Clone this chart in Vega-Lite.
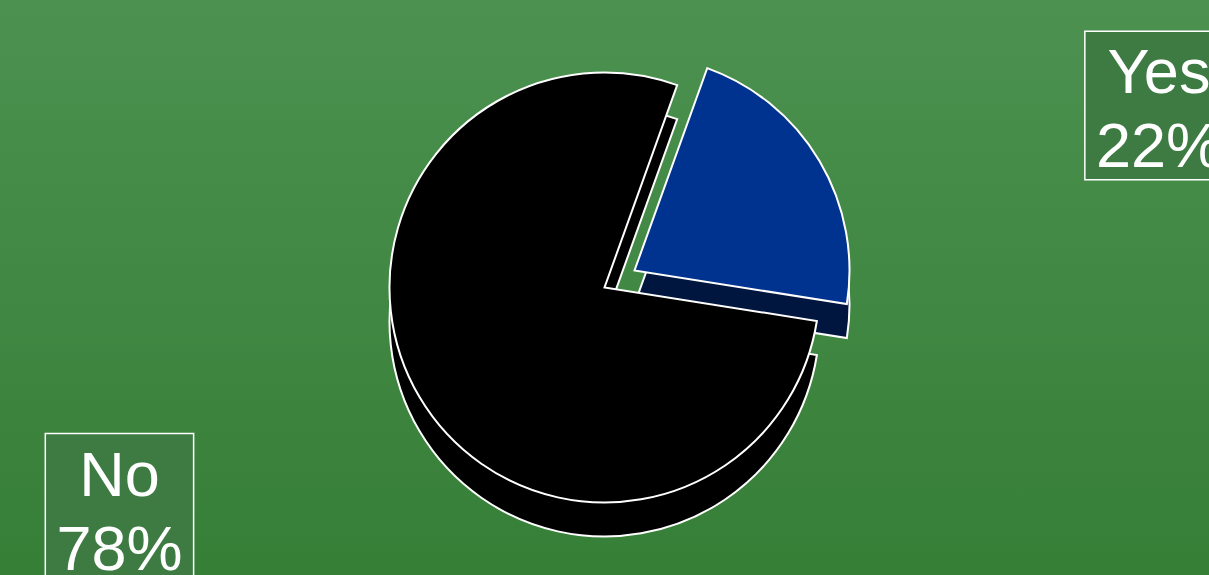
{
  "$schema": "https://vega.github.io/schema/vega-lite/v6.json",
  "width": 1209,
  "height": 575,
  "padding": 0,
  "autosize": {"type": "fit", "contains": "padding"},
  "background": "#428a45",
  "config": {
    "view": {
      "stroke": null,
      "fill": {"gradient": "linear", "x1": 0, "y1": 0, "x2": 0, "y2": 1,
        "stops": [{"offset": 0, "color": "#4c9150"}, {"offset": 1, "color": "#367f37"}]}
    }
  },
  "data": {"values": [
    {"answer": "Yes", "share": 0.22},
    {"answer": "No", "share": 0.78}
  ]},
  "layer": [
    {
      "mark": {"type": "arc", "radius": 215, "fill": "#000000", "stroke": "white", "strokeWidth": 2, "yOffset": 34},
      "encoding": {
        "theta": {"field": "share", "type": "quantitative", "stack": true, "scale": {"range": [0.345, 6.628]}},
        "order": {"field": "answer", "sort": "descending"},
        "opacity": {"condition": {"test": "datum.answer === 'No'", "value": 1}, "value": 0}
      }
    },
    {
      "mark": {"type": "arc", "radius": 215, "fill": "#00163f", "stroke": "white", "strokeWidth": 2, "xOffset": 30, "yOffset": 17},
      "encoding": {
        "theta": {"field": "share", "type": "quantitative", "stack": true, "scale": {"range": [0.345, 6.628]}},
        "order": {"field": "answer", "sort": "descending"},
        "opacity": {"condition": {"test": "datum.answer === 'Yes'", "value": 1}, "value": 0}
      }
    },
    {
      "mark": {"type": "arc", "radius": 215, "fill": "#000000", "stroke": "white", "strokeWidth": 2},
      "encoding": {
        "theta": {"field": "share", "type": "quantitative", "stack": true, "scale": {"range": [0.345, 6.628]}},
        "order": {"field": "answer", "sort": "descending"},
        "opacity": {"condition": {"test": "datum.answer === 'No'", "value": 1}, "value": 0}
      }
    },
    {
      "mark": {"type": "arc", "radius": 215, "fill": "#00338f", "stroke": "white", "strokeWidth": 2, "xOffset": 30, "yOffset": -17},
      "encoding": {
        "theta": {"field": "share", "type": "quantitative", "stack": true, "scale": {"range": [0.345, 6.628]}},
        "order": {"field": "answer", "sort": "descending"},
        "opacity": {"condition": {"test": "datum.answer === 'Yes'", "value": 1}, "value": 0}
      }
    },
    {
      "mark": {"type": "point", "shape": "square", "size": 22000, "filled": true, "fill": "#3e7b43", "stroke": "white", "strokeWidth": 1.5, "opacity": 1, "clip": true},
      "encoding": {
        "x": {"field": "answer", "type": "nominal", "scale": {"type": "point", "domain": ["No", "Yes"], "padding": 0.0815, "align": 0.705}, "axis": null},
        "y": {"field": "answer", "type": "nominal", "scale": {"type": "point", "domain": ["Yes", "No"], "padding": 0.215, "align": 0.61}, "axis": null}
      }
    },
    {
      "mark": {"type": "text", "font": "Liberation Sans", "fontSize": 63, "color": "white", "align": "center", "baseline": "alphabetic", "dy": -12, "clip": true},
      "encoding": {
        "x": {"field": "answer", "type": "nominal"},
        "y": {"field": "answer", "type": "nominal"},
        "text": {"field": "answer", "type": "nominal"}
      }
    },
    {
      "mark": {"type": "text", "font": "Liberation Sans", "fontSize": 63, "color": "white", "align": "center", "baseline": "alphabetic", "dy": 62, "clip": true},
      "encoding": {
        "x": {"field": "answer", "type": "nominal"},
        "y": {"field": "answer", "type": "nominal"},
        "text": {"field": "share", "type": "quantitative", "format": ".0%"}
      }
    }
  ]
}
